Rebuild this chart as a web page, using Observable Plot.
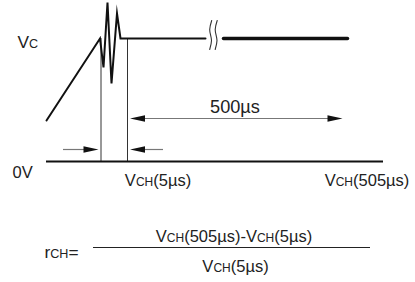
<!DOCTYPE html>
<html><head><meta charset="utf-8">
<script src="https://cdn.jsdelivr.net/npm/d3@7"></script>
<script src="https://cdn.jsdelivr.net/npm/@observablehq/plot@0.6"></script>
<style>body{margin:0;background:#fff}svg{display:block}</style>
</head><body><div id="chart"></div>
<script>
// Schematic geometry (diagram units)
const waveX = [46, 99.5, 103, 107, 111, 116.5, 120, 205];
const waveY = [120, 38, 67, 2, 83, 13, 38, 38];
const tailX = [223, 347];
const tailY = [38, 38];
const breakA = {x: [211.2, 209.2, 211, 209.2], y: [20, 29, 40, 49]};
const breakB = {x: [216.7, 214.7, 216.5, 214.7], y: [20, 29, 40, 49]};
const markerX = [100.5, 127];
const markerTop = [38, 38];
const groundY = 161;
const groundX = [46, 383];
const shaftX1 = [63, 145, 140];
const shaftX2 = [86, 163, 328];
const shaftY = [149, 149, 118];
const headX = [98, 129.5, 129.5, 342];
const headY = [149, 149, 118, 118];
const headDir = ["right", "left", "left", "right"];
const fracX = [93, 370];
const fracY = 247;
// Labels: {..} marks small-caps subscript part
const labelText = ["V{C}", "0V", "500µs", "V{CH}(5µs)", "V{CH}(505µs)", "V{CH}(505µs)-V{CH}(5µs)", "V{CH}(5µs)", "r{CH}="];
const labelX = [17, 12, 234.5, 157.5, 366.5, 233.5, 235, 44];
const labelY = [47, 177, 112, 185, 185, 241, 271, 257];
const labelAnchor = ["start", "start", "middle", "middle", "middle", "middle", "middle", "start"];
const labelScale = [1.05, 1, 1.1, 1, 1, 1, 1, 1.05];

const W = 415, H = 282;
const BIG = 16.5, SMALL = 12;
const FONT = '"Liberation Sans", Arial, Helvetica, sans-serif';
const ctx = document.createElement("canvas").getContext("2d");
function tw(t, s) { ctx.font = `${s}px ${FONT}`; return ctx.measureText(t).width; }

const segs = [];
labelText.forEach((txt, i) => {
  const parts = txt.split(/(\{[^}]*\})/).filter(p => p.length).map(p =>
    p.startsWith("{") ? {t: p.slice(1, -1), small: true} : {t: p, small: false});
  const sizes = parts.map(p => (p.small ? SMALL : BIG) * labelScale[i]);
  const widths = parts.map((p, k) => tw(p.t, sizes[k]));
  const total = d3.sum(widths);
  let x = labelAnchor[i] === "middle" ? labelX[i] - total / 2 : labelX[i];
  parts.forEach((p, k) => { segs.push({x, y: labelY[i], t: p.t, size: sizes[k]}); x += widths[k]; });
});

const wave = waveX.map((x, i) => ({x, y: waveY[i]}));
const tail = tailX.map((x, i) => ({x, y: tailY[i]}));
const brk = [breakA, breakB].flatMap((b, k) => b.x.map((x, i) => ({x, y: b.y[i], k})));
const markers = markerX.map((x, i) => ({x, y1: markerTop[i], y2: groundY}));
const shafts = shaftX1.map((x1, i) => ({x1, x2: shaftX2[i], y: shaftY[i]}));
const heads = headX.map((x, i) => ({x, y: headY[i], rot: headDir[i] === "right" ? 0 : 180}));
const headSym = {draw(c) { c.moveTo(0, 0); c.lineTo(-15, -3.2); c.lineTo(-15, 3.2); c.closePath(); }};
const sizesUsed = Array.from(new Set(segs.map(d => d.size)));

const chart = Plot.plot({
  width: W, height: H, margin: 0,
  x: {domain: [0, W], range: [0, W], axis: null},
  y: {domain: [0, H], range: [0, H], axis: null},
  style: {background: "#fff", overflow: "visible"},
  marks: [
    Plot.ruleX(markers, {x: "x", y1: "y1", y2: "y2", stroke: "#333", strokeWidth: 1}),
    Plot.ruleY([groundY], {x1: groundX[0], x2: groundX[1], stroke: "#111", strokeWidth: 2}),
    Plot.ruleY(shafts, {x1: "x1", x2: "x2", y: "y", stroke: "#777", strokeWidth: 1.2}),
    Plot.dot(heads, {x: "x", y: "y", rotate: "rot", symbol: headSym, fill: "#111", stroke: "none", r: 5}),
    Plot.line(wave, {x: "x", y: "y", stroke: "#111", strokeWidth: 2, strokeLinejoin: "miter", strokeMiterlimit: 10}),
    Plot.line(tail, {x: "x", y: "y", stroke: "#111", strokeWidth: 3.5}),
    Plot.line(brk, {x: "x", y: "y", z: "k", stroke: "#333", strokeWidth: 1.1, curve: "catmull-rom"}),
    Plot.ruleY([fracY], {x1: fracX[0], x2: fracX[1], stroke: "#222", strokeWidth: 1}),
    ...sizesUsed.map(s => Plot.text(segs.filter(d => d.size === s), {x: "x", y: "y", text: "t", textAnchor: "start", lineAnchor: "bottom", fontSize: s, fontFamily: FONT, fill: "#222"}))
  ]
});
document.getElementById("chart").append(chart);
</script>
</body></html>
